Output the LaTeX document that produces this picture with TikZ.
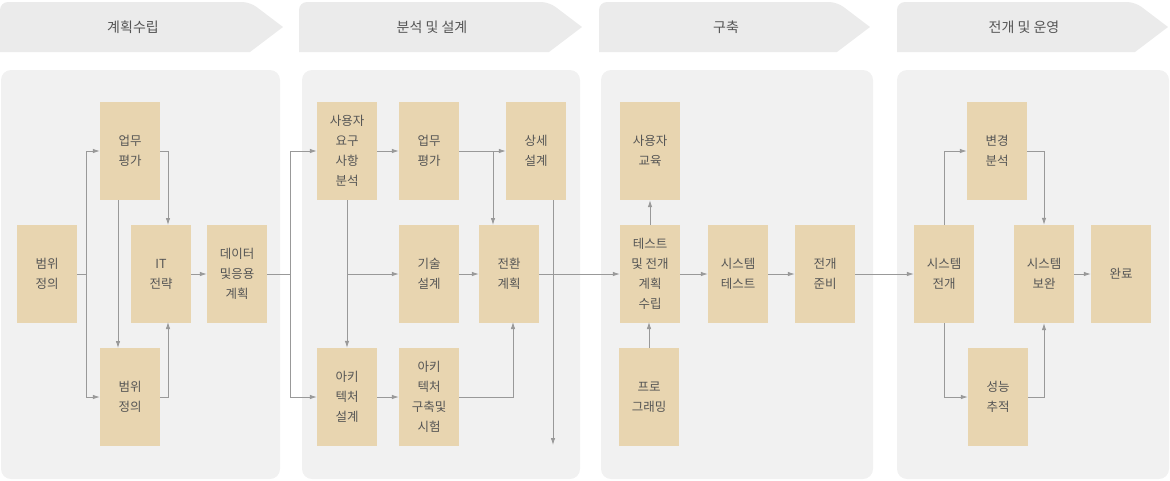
\documentclass[tikz,border=0pt]{standalone}
\usepackage{fontspec}
\setmainfont{Noto Sans CJK KR}
\usetikzlibrary{arrows.meta}
\definecolor{boxc}{HTML}{E8D5B0}
\definecolor{panelc}{HTML}{F1F1F1}
\definecolor{headc}{HTML}{EBEBEB}
\definecolor{linec}{HTML}{999999}
\definecolor{txtc}{HTML}{555555}
\begin{document}
\begin{tikzpicture}[x=1pt,y=-1pt,
  bx/.style={fill=boxc,draw=none,minimum width=60pt,minimum height=98pt,inner sep=0pt,align=center,font=\fontsize{12.5}{20}\selectfont,text=txtc},
  ln/.style={draw=linec,line width=0.8pt},
  ar/.style={ln,-{Latex[length=7pt,width=4.5pt]}},
  pnl/.style={fill=panelc,draw=none,rounded corners=10pt},
  hd/.style={fill=headc,draw=none},
  ht/.style={font=\fontsize{14}{16}\selectfont,text=txtc}]
\useasboundingbox (0,0) rectangle (1170,480);
% headers
\foreach \a/\b/\t [count=\i] in {0/283/계획수립,299/582/분석 및 설계,599/870/구축,897/1168/전개 및 운영}{
  \fill[headc,rounded corners=8pt] (\a,52) -- (\a,2) -- (\b-33,2) [sharp corners] -- (\b,27) -- (\b-33,52) -- cycle;
  \node[ht] (h\i) at ({(\a+\b-33)/2+8},27) {\t};
}
% panels
\fill[pnl] (1,70) rectangle (280,479);
\fill[pnl] (302,70) rectangle (580,479);
\fill[pnl] (601,70) rectangle (873,479);
\fill[pnl] (897,70) rectangle (1169,479);
% panel 1
\node[bx] (a1) at (47,274) {범위\\정의};
\node[bx] (a2) at (130,151) {업무\\평가};
\node[bx] (a3) at (161,274) {IT\\전략};
\node[bx] (a4) at (237,274) {데이터\\및응용\\계획};
\node[bx] (a5) at (130,397) {범위\\정의};
% panel 2
\node[bx] (b1) at (347,151) {사용자\\요구\\사항\\분석};
\node[bx] (b2) at (429,151) {업무\\평가};
\node[bx] (b3) at (536,151) {상세\\설계};
\node[bx] (b4) at (429,274) {기술\\설계};
\node[bx] (b5) at (509,274) {전환\\계획};
\node[bx] (b6) at (347,397) {아키\\텍처\\설계};
\node[bx] (b7) at (429,397) {아키\\텍처\\구축및\\시험};
% panel 3
\node[bx] (c1) at (650,151) {사용자\\교육};
\node[bx] (c2) at (650,274) {테스트\\및 전개\\계획\\수립};
\node[bx] (c3) at (649,397) {프로\\그래밍};
\node[bx] (c4) at (738,274) {시스템\\테스트};
\node[bx] (c5) at (825,274) {전개\\준비};
% panel 4
\node[bx] (d1) at (944,274) {시스템\\전개};
\node[bx] (d2) at (997,151) {변경\\분석};
\node[bx] (d3) at (1044,274) {시스템\\보완};
\node[bx] (d4) at (998,397) {성능\\추적};
\node[bx] (d5) at (1121,274) {완료};
\coordinate (dn) at (553,445);
% connectors panel 1
\draw[ar] (a1.east) -| (86,151) -- (a2.west);
\draw[ar] (86,274) |- (a5.west);
\draw[ar] (a2.east) -| (168,225);
\draw[ar] (118,200) -- (118,348);
\draw[ar] (a5.east) -| (168,322);
\draw[ar] (a3.east) -- (a4.west);
\draw[ar] (a4.east) -| (290,151) -- (b1.west);
\draw[ar] (290,274) |- (b6.west);
% panel 2
\draw[ar] (b1.east) -- (b2.west);
\draw[ar] (b1.south) -- (b6.north);
\draw[ar] (347,274) -- (b4.west);
\draw[ar] (b2.east) -- (b3.west);
\draw[ar] (493,151) -- (493,225);
\draw[ar] (b4.east) -- (b5.west);
\draw[ar] (b6.east) -- (b7.west);
\draw[ar] (b7.east) -| (513,322);
\draw[ar] (553,200) -- (dn);
\draw[ar] (b5.east) -- (c2.west);
% panel 3
\draw[ar] (c2.north) -- (c1.south);
\draw[ar] (c3.north) -- (649,322);
\draw[ar] (c2.east) -- (c4.west);
\draw[ar] (c4.east) -- (c5.west);
\draw[ar] (c5.east) -- (d1.west);
% panel 4
\draw[ar] (d1.north) |- (d2.west);
\draw[ar] (d2.east) -| (d3.north);
\draw[ar] (d1.south) |- (d4.west);
\draw[ar] (d4.east) -| (d3.south);
\draw[ar] (d3.east) -- (d5.west);
\end{tikzpicture}
\end{document}
